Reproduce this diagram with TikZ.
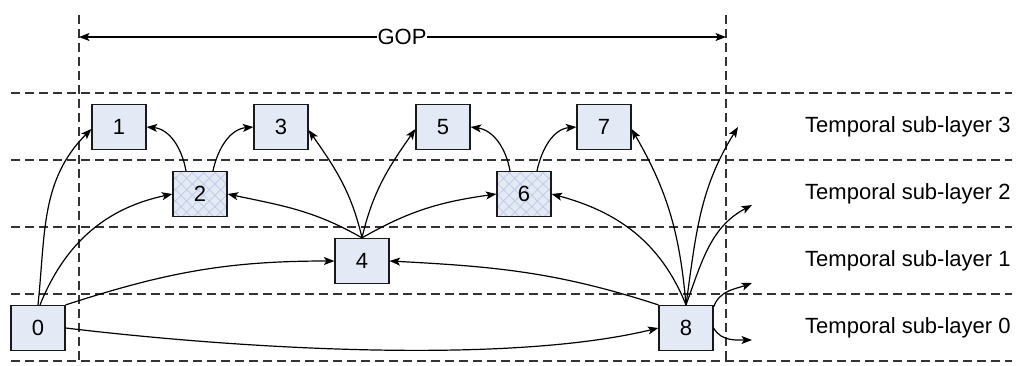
\documentclass[tikz,border=0pt]{standalone}
\usepackage{fontspec}
\setmainfont{Liberation Sans}
\usetikzlibrary{arrows.meta,patterns.meta}
\definecolor{boxfill}{HTML}{E4EAF5}
\definecolor{hatchcol}{HTML}{BCC9E2}
\definecolor{dashcol}{HTML}{333333}
\begin{document}
\begin{tikzpicture}[x=1pt,y=1pt,
  font=\fontsize{22}{26}\selectfont,
  frame/.style={draw=black!90, line width=1.2pt, minimum width=54pt, minimum height=45pt, inner sep=0pt},
  plainbox/.style={frame, fill=boxfill},
  hatchbox/.style={frame, preaction={fill=boxfill},
     preaction={pattern={Hatch[angle=45,distance=8pt,line width=0.7pt]}, pattern color=hatchcol}},
  guide/.style={dashcol, line width=1.3pt, dash pattern=on 9pt off 5pt},
  arr/.style={line width=1.2pt, -{Stealth[length=10.5pt,width=8pt,inset=2.5pt]}},
  lbl/.style={anchor=west, inner sep=0pt}
]
\useasboundingbox (0,0) rectangle (1028,-365);

% guide lines
\foreach \yy in {93,160,227,294,361} \draw[guide] (11,-\yy) -- (1012,-\yy);
\draw[guide] (79,-15) -- (79,-365);
\draw[guide] (726,-15) -- (726,-365);

% GOP
\node[inner sep=0.5pt] (gop) at (402,-37) {GOP};
\coordinate (gopL) at (79,-37);
\coordinate (gopR) at (726,-37);
\draw[arr] (gop.west) -- (gopL);
\draw[arr] (gop.east) -- (gopR);

% boxes
\node[plainbox] (b1) at (119,-127) {1};
\node[plainbox] (b3) at (281,-127) {3};
\node[plainbox] (b5) at (443,-127) {5};
\node[plainbox] (b7) at (604,-127) {7};
\node[hatchbox] (b2) at (200,-194) {2};
\node[hatchbox] (b6) at (524,-194) {6};
\node[plainbox] (b4) at (362,-261) {4};
\node[plainbox] (b0) at (38,-328) {0};
\node[plainbox] (b8) at (686,-328) {8};

% labels
\node[lbl] (t3) at (805,-127) {Temporal sub-layer 3};
\node[lbl] (t2) at (805,-194) {Temporal sub-layer 2};
\node[lbl] (t1) at (805,-261) {Temporal sub-layer 1};
\node[lbl] (t0) at (805,-328) {Temporal sub-layer 0};

% free arrow ends
\coordinate (f1) at (738,-127);
\coordinate (f2) at (752,-205);
\coordinate (f3) at (752,-283);
\coordinate (f4) at (752,-340);

% arrows from 0
\draw[arr] (b0.north) to[out=84,in=225] ([yshift=-2pt]b1.west);
\draw[arr] ([xshift=2pt]b0.north) to[out=68,in=192] (b2.west);
\draw[arr] (b0.north east) to[out=18,in=180] (b4.west);
\draw[arr] (b0.east) .. controls (250,-350) and (510,-364) .. (b8.west);

% arrows from 2
\draw[arr] ([xshift=-14pt]b2.north) to[out=100,in=-5] (b1.east);
\draw[arr] ([xshift=13pt]b2.north) to[out=78,in=185] (b3.west);

% arrows from 4
\draw[arr] (b4.north) to[out=150,in=-12] (b2.east);
\draw[arr] (b4.north) to[out=103,in=-55] ([yshift=-3pt]b3.east);
\draw[arr] (b4.north) to[out=77,in=235] ([yshift=-2pt]b5.west);
\draw[arr] (b4.north) to[out=30,in=188] (b6.west);

% arrows from 6
\draw[arr] ([xshift=-14pt]b6.north) to[out=100,in=-8] (b5.east);
\draw[arr] ([xshift=13pt]b6.north) to[out=78,in=185] (b7.west);

% arrows from 8
\draw[arr] (b8.north west) to[out=162,in=-3] (b4.east);
\draw[arr] (b8.north) to[out=112,in=-15] (b6.east);
\draw[arr] (b8.north) to[out=95,in=-60] ([yshift=-2pt]b7.east);
\draw[arr] (b8.north) to[out=82,in=238] (f1);
\draw[arr] (b8.north) to[out=70,in=208] (f2);
\draw[arr] ([yshift=-2pt]b8.north east) to[out=70,in=200] (f3);
\draw[arr] (b8.east) to[out=-60,in=180] (f4);
\end{tikzpicture}
\end{document}
